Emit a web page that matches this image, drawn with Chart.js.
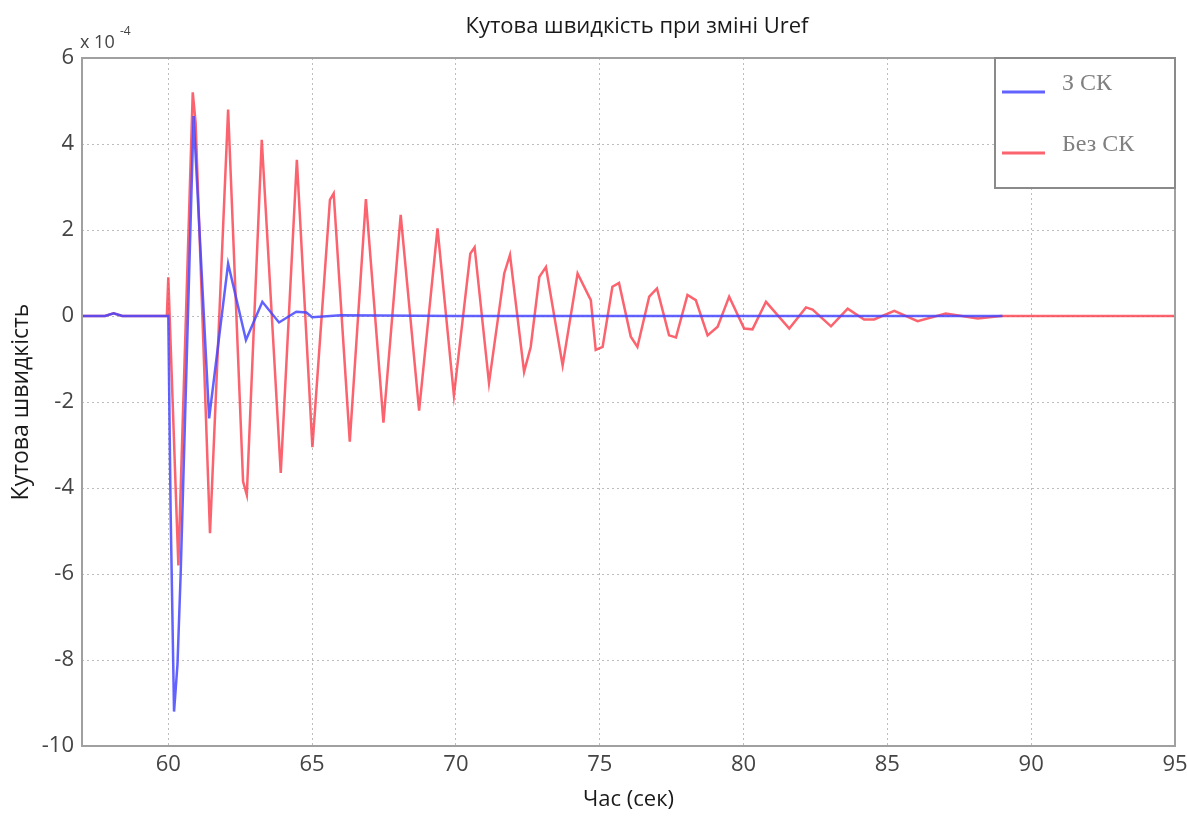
<!DOCTYPE html>
<html>
<head>
<meta charset="utf-8">
<script src="https://cdn.jsdelivr.net/npm/chart.js@4.4.1/dist/chart.umd.min.js"></script>
<style>
  html, body { margin: 0; padding: 0; background: #fff; }
</style>
</head>
<body>
<canvas id="speedChart" width="1187" height="821"></canvas>
<script>
// values are in units of 1e-4 (axis multiplier "x 10^-4")
const timeWith = [57, 57.8, 58.1, 58.4, 60.0, 60.08, 60.2, 60.32, 60.43, 60.88, 61.42, 62.08, 62.7,
  63.27, 63.85, 64.45, 64.8, 65.0, 66, 70, 75, 80, 85, 89];
const speedWith = [0, 0, 0.06, 0, 0, -4.5, -9.2, -8.1, -6.0, 4.65, -2.38, 1.22, -0.56,
  0.33, -0.15, 0.1, 0.08, -0.03, 0.02, 0, 0, 0, 0, 0];

const timeWithout = [57, 57.8, 58.1, 58.4, 59.95, 60.0, 60.35, 60.85, 60.95, 61.45, 62.08, 62.6, 62.73,
  63.25, 63.91, 64.47, 65.01, 65.62, 65.75, 66.31, 66.87, 67.48, 68.08, 68.72, 69.36, 69.93,
  70.5, 70.65, 71.15, 71.68, 71.88, 72.37, 72.6, 72.9, 73.13, 73.71, 74.23, 74.69, 74.86, 75.1,
  75.44, 75.67, 76.08, 76.31, 76.72, 76.99, 77.41, 77.65, 78.05, 78.34, 78.75, 79.1, 79.5,
  80.02, 80.31, 80.78, 81.59, 82.17, 82.4, 83.04, 83.62, 84.19, 84.54, 85.24, 86.05, 87.03,
  88.14, 88.95, 95];
const speedWithout = [0, 0, 0.06, 0, 0, 0.9, -5.8, 5.2, 4.5, -5.05, 4.8, -3.85, -4.16,
  4.1, -3.65, 3.63, -3.05, 2.7, 2.85, -2.92, 2.72, -2.48, 2.35, -2.2, 2.04, -1.85,
  1.45, 1.6, -1.56, 0.99, 1.42, -1.3, -0.72, 0.91, 1.14, -1.15, 0.99, 0.37, -0.79, -0.72,
  0.68, 0.77, -0.48, -0.72, 0.45, 0.64, -0.45, -0.5, 0.49, 0.37, -0.45, -0.25, 0.45,
  -0.29, -0.31, 0.33, -0.29, 0.2, 0.15, -0.24, 0.17, -0.08, -0.08, 0.12, -0.12, 0.06,
  -0.06, 0, 0];

const seriesNames = ['З СК', 'Без СК'];
const xTicks = [60, 65, 70, 75, 80, 85, 90, 95];
const yTicks = [-10, -8, -6, -4, -2, 0, 2, 4, 6];

const blue = 'rgba(70, 70, 255, 0.85)';
const red = 'rgba(250, 60, 75, 0.8)';
const sans = "'Open Sans', 'DejaVu Sans', sans-serif";

const toPoints = (xs, ys) => xs.map((x, i) => ({ x: x, y: ys[i] }));

// MATLAB-like frame, title, exponent and legend box
const decorations = {
    id: 'decorations',
    afterDraw(chart) {
        const ctx = chart.ctx;
        const a = chart.chartArea;
        ctx.save();

        ctx.strokeStyle = '#a0a0a0';
        ctx.lineWidth = 2;
        ctx.strokeRect(a.left, a.top, a.right - a.left, a.bottom - a.top);

        ctx.fillStyle = '#1a1a1a';
        ctx.font = '22px ' + sans;
        ctx.textAlign = 'center';
        ctx.textBaseline = 'middle';
        ctx.fillText('Кутова швидкість при зміні Uref', 637, 27);

        ctx.fillStyle = '#444';
        ctx.textAlign = 'left';
        ctx.font = '18px ' + sans;
        ctx.fillText('x 10', a.left - 2, 43);
        ctx.font = '12px ' + sans;
        ctx.fillText('-4', a.left + 38, 32);

        // legend
        const lx = 995, ly = a.top, lw = a.right - lx, lh = 130;
        ctx.fillStyle = '#fff';
        ctx.fillRect(lx, ly, lw, lh);
        ctx.strokeStyle = '#8a8a8a';
        ctx.lineWidth = 2;
        ctx.strokeRect(lx, ly, lw, lh);
        const rows = [92, 153];
        chart.data.datasets.forEach((ds, i) => {
            ctx.strokeStyle = ds.borderColor;
            ctx.lineWidth = 3;
            ctx.beginPath();
            ctx.moveTo(lx + 7, rows[i]);
            ctx.lineTo(lx + 50, rows[i]);
            ctx.stroke();
            ctx.fillStyle = '#808080';
            ctx.font = "24px 'Liberation Serif', 'DejaVu Serif', serif";
            ctx.textBaseline = 'middle';
            ctx.fillText(ds.label, lx + 67, rows[i] - 8);
        });
        ctx.restore();
    }
};

const ctx = document.getElementById('speedChart').getContext('2d');
new Chart(ctx, {
    type: 'line',
    data: {
        datasets: [{
            label: seriesNames[0],
            data: toPoints(timeWith, speedWith),
            borderColor: blue,
            borderWidth: 2.5,
            pointRadius: 0,
            tension: 0,
            fill: false
        }, {
            label: seriesNames[1],
            data: toPoints(timeWithout, speedWithout),
            borderColor: red,
            borderWidth: 2.5,
            pointRadius: 0,
            tension: 0,
            fill: false
        }]
    },
    options: {
        responsive: false,
        animation: false,
        layout: { padding: { left: 0, right: 12, top: 58, bottom: 0 } },
        plugins: {
            legend: { display: false },
            tooltip: { enabled: false }
        },
        scales: {
            x: {
                type: 'linear',
                min: 57,
                max: 95,
                afterBuildTicks: s => { s.ticks = xTicks.map(v => ({ value: v })); },
                afterFit: s => { s.height = 75; s.paddingLeft = 0; s.paddingRight = 0; },
                grid: { color: '#bdbdbd', drawTicks: false },
                border: { display: false, dash: [2, 3] },
                ticks: { color: '#444', font: { family: sans, size: 22 }, padding: 6, maxRotation: 0 },
                title: {
                    display: true,
                    text: 'Час (сек)',
                    color: '#1a1a1a',
                    font: { family: sans, size: 22 },
                    padding: { top: 0, bottom: 8 }
                }
            },
            y: {
                min: -10,
                max: 6,
                afterBuildTicks: s => { s.ticks = yTicks.map(v => ({ value: v })); },
                afterFit: s => { s.width = 82; s.paddingTop = 0; s.paddingBottom = 0; },
                grid: { color: '#bdbdbd', drawTicks: false },
                border: { display: false, dash: [2, 3] },
                ticks: { color: '#444', font: { family: sans, size: 22 }, padding: 8 },
                title: {
                    display: true,
                    text: 'Кутова швидкість',
                    color: '#1a1a1a',
                    font: { family: sans, size: 23 },
                    padding: { top: 8, bottom: 0 }
                }
            }
        }
    },
    plugins: [decorations]
});
</script>
</body>
</html>
